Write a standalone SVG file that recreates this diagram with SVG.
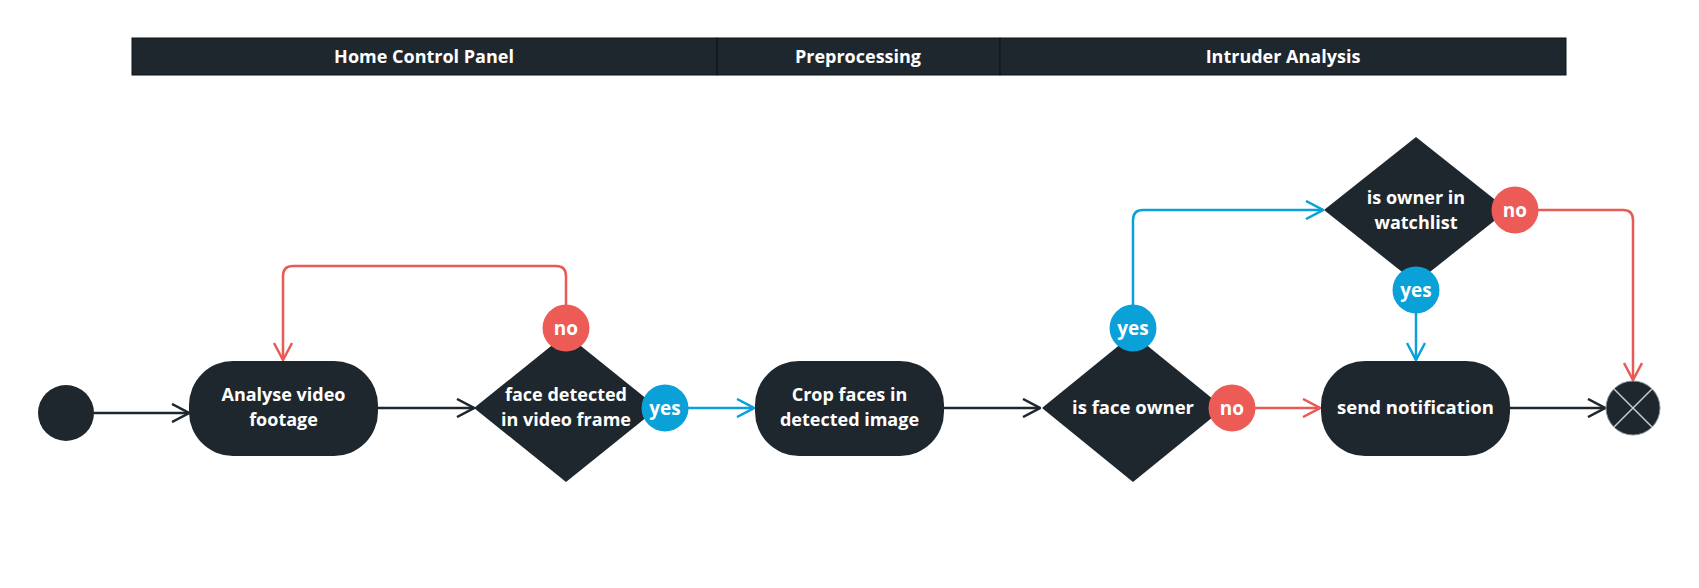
<svg xmlns="http://www.w3.org/2000/svg" width="1699" height="588" viewBox="0 0 1699 588">
  <style>
    .lane { fill: #1f272e; stroke: #0e1417; stroke-width: 1; }
    .lane-t { font-family: "Open Sans", "Liberation Sans", sans-serif; font-weight: 700; font-size: 18px; fill: #ffffff; text-anchor: middle; }
    .node { fill: #1f272e; }
    .t { font-family: "Open Sans", "Liberation Sans", sans-serif; font-weight: 700; font-size: 18.5px; fill: #ffffff; text-anchor: middle; }
    .t2 { font-family: "Open Sans", "Liberation Sans", sans-serif; font-weight: 700; font-size: 18px; fill: #ffffff; text-anchor: middle; }
    .lbl { font-family: "Open Sans", "Liberation Sans", sans-serif; font-weight: 700; font-size: 19px; fill: #ffffff; text-anchor: middle; }
    .no { fill: #ec5b56; }
    .yes { fill: #0aa1d9; }
    .c-dark { fill: none; stroke: #1f272e; stroke-width: 2.5; }
    .c-red { fill: none; stroke: #e85a55; stroke-width: 2.5; }
    .c-blue { fill: none; stroke: #0aa1d9; stroke-width: 2.5; }
  </style>
  <defs>
    <marker id="a-dark" viewBox="0 0 20 20" refX="19" refY="10" markerWidth="20" markerHeight="20" markerUnits="userSpaceOnUse" orient="auto">
      <path d="M2,1 L19,10 L2,19" fill="none" stroke="#1f272e" stroke-width="2.5"/>
    </marker>
    <marker id="a-red" viewBox="0 0 20 20" refX="19" refY="10" markerWidth="20" markerHeight="20" markerUnits="userSpaceOnUse" orient="auto">
      <path d="M2,1 L19,10 L2,19" fill="none" stroke="#e85a55" stroke-width="2.5"/>
    </marker>
    <marker id="a-blue" viewBox="0 0 20 20" refX="19" refY="10" markerWidth="20" markerHeight="20" markerUnits="userSpaceOnUse" orient="auto">
      <path d="M2,1 L19,10 L2,19" fill="none" stroke="#0aa1d9" stroke-width="2.5"/>
    </marker>
  </defs>

  <g id="lanes">
    <rect class="lane" x="132" y="38" width="585" height="37"/>
    <rect class="lane" x="717" y="38" width="283" height="37"/>
    <rect class="lane" x="1000" y="38" width="566" height="37"/>
    <text class="lane-t" x="424" y="63">Home Control Panel</text>
    <text class="lane-t" x="858" y="63">Preprocessing</text>
    <text class="lane-t" x="1283" y="63">Intruder Analysis</text>
  </g>

  <g id="connectors">
    <path class="c-dark" d="M94,413 L189,413" marker-end="url(#a-dark)"/>
    <path class="c-dark" d="M378,408 L474,408" marker-end="url(#a-dark)"/>
    <path class="c-red" d="M566,305 L566,276 Q566,266 556,266 L293,266 Q283,266 283,276 L283,360" marker-end="url(#a-red)"/>
    <path class="c-blue" d="M688,408 L754,408" marker-end="url(#a-blue)"/>
    <path class="c-dark" d="M943,408 L1040,408" marker-end="url(#a-dark)"/>
    <path class="c-blue" d="M1133,305 L1133,220 Q1133,210 1143,210 L1323,210" marker-end="url(#a-blue)"/>
    <path class="c-red" d="M1255,408 L1320,408" marker-end="url(#a-red)"/>
    <path class="c-blue" d="M1416,313 L1416,360" marker-end="url(#a-blue)"/>
    <path class="c-red" d="M1538,210 L1623,210 Q1633,210 1633,220 L1633,380" marker-end="url(#a-red)"/>
    <path class="c-dark" d="M1510,408 L1605,408" marker-end="url(#a-dark)"/>
  </g>

  <g id="start">
    <circle class="node" cx="66" cy="413" r="28"/>
  </g>

  <g id="analyse">
    <rect class="node" x="189" y="361" width="189" height="95" rx="44" ry="44"/>
    <text class="t2" x="283.5" y="401">Analyse video</text>
    <text class="t2" x="283.5" y="425.6">footage</text>
  </g>

  <g id="face-detected">
    <polygon class="node" points="566,334 658,408 566,482 474,408"/>
    <text class="t2" x="566" y="401">face detected</text>
    <text class="t2" x="566" y="425.6">in video frame</text>
    <circle class="no" cx="566" cy="328" r="23.5"/>
    <text class="lbl" x="566" y="334.5">no</text>
    <circle class="yes" cx="665" cy="408" r="23.5"/>
    <text class="lbl" x="665" y="414.5">yes</text>
  </g>

  <g id="crop">
    <rect class="node" x="755" y="361" width="189" height="95" rx="44" ry="44"/>
    <text class="t2" x="849.5" y="401">Crop faces in</text>
    <text class="t2" x="849.5" y="425.6">detected image</text>
  </g>

  <g id="face-owner">
    <polygon class="node" points="1133,334 1224,408 1133,482 1042,408"/>
    <text class="t" x="1133" y="414">is face owner</text>
    <circle class="yes" cx="1133" cy="328" r="23.5"/>
    <text class="lbl" x="1133" y="334.5">yes</text>
    <circle class="no" cx="1232" cy="408" r="23.5"/>
    <text class="lbl" x="1232" y="414.5">no</text>
  </g>

  <g id="watchlist">
    <polygon class="node" points="1416,137 1508,210 1416,283 1324,210"/>
    <text class="t2" x="1416" y="204">is owner in</text>
    <text class="t2" x="1416" y="228.6">watchlist</text>
    <circle class="no" cx="1515" cy="210" r="23.5"/>
    <text class="lbl" x="1515" y="216.5">no</text>
    <circle class="yes" cx="1416" cy="290" r="23.5"/>
    <text class="lbl" x="1416" y="296.5">yes</text>
  </g>

  <g id="send-notification">
    <rect class="node" x="1321" y="361" width="189" height="95" rx="44" ry="44"/>
    <text class="t" x="1415.5" y="414">send notification</text>
  </g>

  <g id="end">
    <circle class="node" cx="1633" cy="408" r="27" stroke="#8a8f93" stroke-width="1"/>
    <path d="M1614,389 L1652,427 M1652,389 L1614,427" stroke="#c9cccf" stroke-width="1.5" fill="none"/>
  </g>
</svg>
